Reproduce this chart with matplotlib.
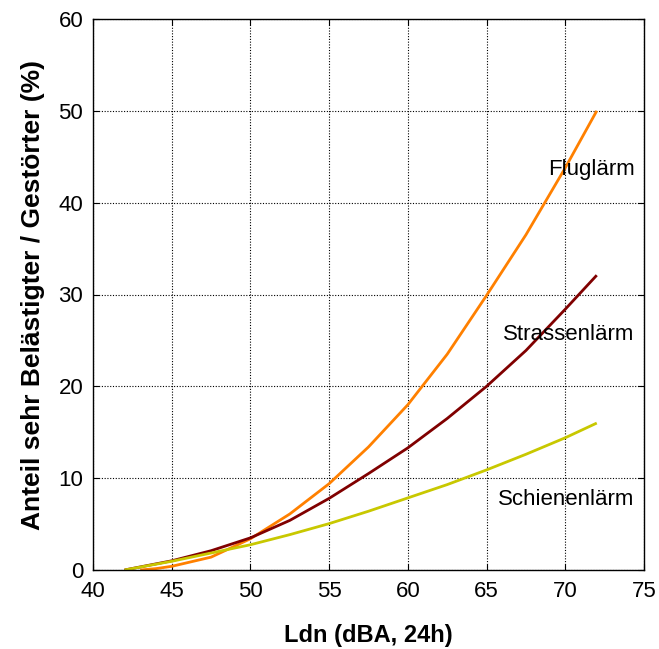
import matplotlib
matplotlib.use("Agg")
import matplotlib.pyplot as plt

# Data
ldn_flug = [43, 44, 45, 47.5, 50, 52.5, 55, 57.5, 60, 62.5, 65, 67.5, 70, 72]
flug = [0, 0.15, 0.4, 1.4, 3.4, 6.1, 9.4, 13.4, 18.0, 23.5, 29.9, 36.5, 43.8, 50.0]

ldn_strasse = [42, 45, 47.5, 50, 52.5, 55, 57.5, 60, 62.5, 65, 67.5, 70, 72]
strasse = [0, 1.0, 2.1, 3.5, 5.4, 7.8, 10.5, 13.3, 16.5, 20.0, 23.9, 28.4, 32.1]

ldn_schiene = [42, 45, 47.5, 50, 52.5, 55, 57.5, 60, 62.5, 65, 67.5, 70, 72]
schiene = [0, 0.95, 1.85, 2.75, 3.85, 5.05, 6.4, 7.85, 9.3, 10.9, 12.6, 14.4, 16.0]

labels = ["Fluglärm", "Strassenlärm", "Schienenlärm"]
label_y = [43.6, 25.6, 7.7]
colors = ["#FF8000", "#800000", "#C8C800"]

xticks = [40, 45, 50, 55, 60, 65, 70, 75]
yticks = [0, 10, 20, 30, 40, 50, 60]

plt.rcParams['font.family'] = ['Liberation Sans', 'DejaVu Sans']

fig = plt.figure(figsize=(6.59, 6.49), dpi=100)
W, H = 659, 649
ax = fig.add_axes([93 / W, 79 / H, 551 / W, 551 / H])

for xs, ys, c in [(ldn_flug, flug, colors[0]),
                  (ldn_strasse, strasse, colors[1]),
                  (ldn_schiene, schiene, colors[2])]:
    ax.plot(xs, ys, color=c, lw=2.0, solid_capstyle='butt', solid_joinstyle='round')

for lab, yv in zip(labels, label_y):
    ax.text(74.4, yv, lab, ha='right', va='center', fontsize=16, color='black')

ax.set_xlim(40, 75)
ax.set_ylim(0, 60)
ax.set_xticks(xticks)
ax.set_yticks(yticks)
ax.grid(True, color='black', linestyle=(0, (1, 1.5)), lw=0.8)
ax.tick_params(direction='in', top=True, right=True, length=4, width=0.8,
               labelsize=16, colors='black')
ax.tick_params(axis='x', pad=8)
ax.tick_params(axis='y', pad=7)
for s in ax.spines.values():
    s.set_linewidth(1.0)
    s.set_color('black')

ax.set_xlabel("Ldn (dBA, 24h)", fontsize=17, fontweight='bold', labelpad=16)
ax.set_ylabel("Anteil sehr Belästigter / Gestörter (%)", fontsize=19, fontweight='bold', labelpad=10)

fig.savefig("out.png", dpi=100)
